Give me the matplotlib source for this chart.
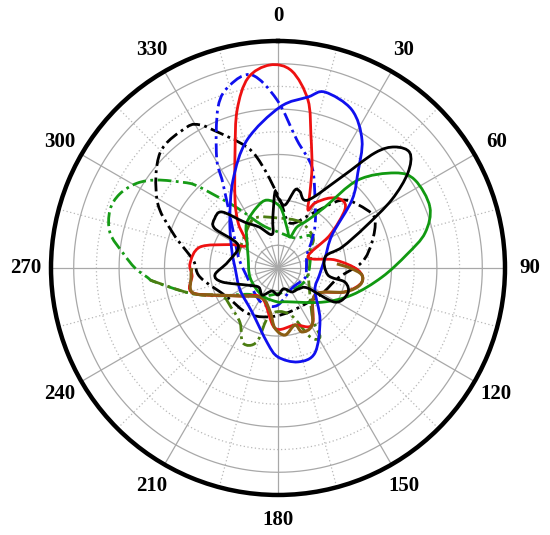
import numpy as np
import matplotlib
matplotlib.use("Agg")
import matplotlib.pyplot as plt
from matplotlib.path import Path
from matplotlib.patches import PathPatch

# ---- data: (angle in degrees clockwise from north, radius in grid units) ----
red_theta = [357.7, 4, 10.1, 14, 18.6, 23, 27.3, 29.6, 36.6, 43.3, 49, 57.6, 70, 82, 91.4, 99.5,
             109.7, 126, 149, 163.4, 183, 208, 233.6, 253.6, 265, 273, 285, 296, 306.6, 318,
             327.7, 340, 345.5, 351]
red_r = [8.95, 8.7, 7.52, 6.0, 4.69, 3.6, 2.88, 3.29, 3.84, 4.11, 3.9, 2.71, 1.41, 2.54, 3.52, 3.75,
         3.13, 2.02, 2.92, 2.62, 2.65, 1.5, 2.08, 3.9, 3.8, 3.88, 3.56, 2.35, 1.7, 2.6,
         3.54, 5.53, 7.19, 8.47]

bluedd_theta = [352.3, 359.7, 8.4, 18.6, 28.6, 40, 50.5, 65.9, 90, 110, 145, 180, 199, 216, 254,
                285, 310, 327, 331, 339.6, 345.3]
bluedd_r = [8.58, 7.4, 5.7, 4.69, 3.41, 2.55, 1.94, 1.4, 1.25, 1.27, 1.08, 1.63, 1.73, 1.58, 1.42,
            1.8, 2.59, 4.46, 5.58, 7.57, 8.33]

blue_theta = [15, 10, 0.7, 346.4, 332.9, 315, 291, 270, 240, 210.6, 188, 180, 168, 156.5, 141,
              121, 100, 78, 58.6, 47.4, 40, 33.3, 25]
blue_r = [8.02, 7.65, 7.09, 5.8, 4.35, 3.0, 2.18, 1.89, 1.93, 2.25, 3.34, 3.92, 4.23, 4.08, 2.94,
          1.9, 1.85, 2.12, 2.79, 4.43, 5.47, 6.74, 7.69]

black_theta = [48.9, 44, 40.1, 35, 23.8, 16, 12.3, 6.3, 0, 357.7, 354, 350, 335, 324, 315, 308,
               302, 300, 277, 264, 256, 240, 225, 210, 195, 180, 165, 150, 135, 124, 121, 110,
               102, 98, 77, 72, 64.8, 59, 53.8]
black_r = [7.71, 7.41, 6.63, 4.9, 3.27, 3.5, 3.52, 2.79, 3.1, 3.35, 2.2, 1.5, 2.0, 2.49, 3.49,
           3.54, 3.29, 2.03, 2.22, 2.79, 2.54, 1.52, 1.2, 1.38, 1.05, 1.19, 0.95, 1.22, 1.3, 1.59,
           2.92, 3.27, 3.02, 2.22, 2.13, 2.97, 4.24, 5.85, 7.09]

green_theta = [68.1, 57.3, 50.9, 42.3, 37.6, 32, 24.9, 21, 12, 2, 350.8, 341, 325, 312, 290,
               250, 210, 180, 168, 128, 110, 95, 84, 76.6]
green_r = [7.21, 7.17, 6.64, 5.24, 3.39, 2.49, 1.99, 1.46, 1.85, 2.69, 3.03, 2.84, 2.41, 1.84,
           1.4, 1.3, 1.4, 1.5, 1.52, 2.45, 3.47, 4.6, 5.71, 6.66]

blackdd_theta = [331.4, 327, 314.3, 299.3, 288.4, 275.4, 263.4, 240.4, 214.6, 192.7, 165, 122.7,
                 99.5, 86, 74.5, 63.7, 56.9, 43.7, 32.5, 15, 1.7, 351.6, 345.6, 334.8]
blackdd_r = [7.18, 7.39, 7.26, 6.11, 4.88, 3.76, 3.46, 2.58, 2.41, 2.21, 2.0, 2.2,
             2.68, 3.71, 4.3, 4.77, 4.68, 4.14, 2.87, 2.05, 3.0, 4.5, 5.5, 6.72]

greendd_theta = [339.6, 326, 319, 315, 312, 306, 301, 295, 289, 281.8, 275.5, 270, 266, 263.5,
                 254, 245, 230, 200, 120, 60, 45, 29.5, 0]
greendd_r = [2.02, 3.18, 4.25, 5.17, 5.64, 6.59, 7.25, 7.7, 7.83, 7.56, 6.86, 6.3, 5.78, 5.45,
             4.03, 2.9, 1.8, 1.3, 1.3, 1.7, 2.0, 1.52, 1.59]

olivedd_theta = [264.6, 254, 244, 230, 214.6, 205, 196, 190, 166, 155, 148.7, 146, 132, 100, 80,
                 60.6, 48.5, 25.6, 0, 335, 315, 288]
olivedd_r = [5.66, 4.03, 2.8, 2.7, 2.94, 3.65, 3.39, 2.1, 2.1, 3.35, 3.56, 2.76, 1.9, 1.35, 1.3,
             1.62, 2.06, 2.25, 2.2, 2.42, 2.06, 1.85]

brown_theta = [270, 264, 253.6, 244, 233.6, 208, 190, 183, 174, 163.4, 159.4, 149, 126, 109.7,
               101.7, 94.8, 90, 86]
brown_r = [3.8, 3.85, 3.9, 2.74, 2.08, 1.5, 1.97, 2.65, 2.97, 2.62, 3.01, 2.92, 2.02, 3.13,
           3.69, 3.71, 3.17, 2.6]

angle_ticks = list(range(0, 360, 30))
angle_labels = [str(a) for a in angle_ticks]

# ---- figure ----
fig = plt.figure(figsize=(5.5, 5.35), dpi=100)
ax = fig.add_axes([0.0927, 0.0748, 0.8255, 0.8486], projection='polar')
ax.set_theta_zero_location('N')
ax.set_theta_direction(-1)
ax.set_rlim(0, 10)
ax.grid(False)

# custom grid
tt = np.linspace(0, 2 * np.pi, 721)
for k in range(1, 10):
    if k % 2 == 1:
        ax.plot(tt, np.full_like(tt, k), color='#a8a8a8', lw=0.9, zorder=1)
    else:
        ax.plot(tt, np.full_like(tt, k), color='#b8b8b8', lw=0.9, ls=(0, (1, 2)), zorder=1)
for a in range(0, 360, 30):
    ax.plot([np.deg2rad(a)] * 2, [0, 10], color='#a8a8a8', lw=0.9, zorder=1)
for a in range(15, 360, 30):
    ax.plot([np.deg2rad(a)] * 2, [1, 10], color='#b8b8b8', lw=0.9, ls=(0, (1, 2)), zorder=1)
    ax.plot([np.deg2rad(a)] * 2, [0, 1], color='#a8a8a8', lw=0.9, zorder=1)


def smooth_path(th_deg, r, closed=True):
    """Bezier path (Catmull-Rom control points) through the read points,
    expressed in polar data coordinates so the axes transform draws it."""
    th = np.deg2rad(np.asarray(th_deg, float))
    r = np.asarray(r, float)
    P = np.column_stack([r * np.sin(th), r * np.cos(th)])
    n = len(P)
    if closed:
        get = lambda i: P[i % n]
        segs = range(n)
    else:
        get = lambda i: P[min(max(i, 0), n - 1)]
        segs = range(n - 1)
    verts = [get(0)]
    codes = [Path.MOVETO]
    for i in segs:
        p0, p1, p2, p3 = get(i - 1), get(i), get(i + 1), get(i + 2)
        c1 = p1 + (p2 - p0) / 6.0
        c2 = p2 - (p3 - p1) / 6.0
        verts += [c1, c2, p2]
        codes += [Path.CURVE4] * 3
    V = np.array(verts)
    pol = np.column_stack([np.arctan2(V[:, 0], V[:, 1]), np.hypot(V[:, 0], V[:, 1])])
    return Path(pol, codes)


dd = (0, (5, 1.6, 1, 1.6))
series = [
    (blackdd_theta, blackdd_r, 'black', dd, True, 2.0),
    (greendd_theta, greendd_r, '#169b16', dd, True, 2.0),
    (olivedd_theta, olivedd_r, '#4b7d12', dd, False, 2.0),
    (bluedd_theta, bluedd_r, '#1010ee', dd, True, 2.0),
    (red_theta, red_r, '#ee1111', '-', True, 2.0),
    (brown_theta, brown_r, '#8a5e14', '-', False, 2.2),
    (green_theta, green_r, '#119911', '-', True, 2.0),
    (blue_theta, blue_r, '#1010ee', '-', True, 2.0),
    (black_theta, black_r, 'black', '-', True, 2.0),
]
for th, r, c, ls, cl, lw in series:
    patch = PathPatch(smooth_path(th, r, cl), fill=False, edgecolor=c, lw=lw,
                      linestyle=ls, zorder=3)
    ax.add_patch(patch)

ax.set_yticks([])
ax.set_xticks(np.deg2rad(angle_ticks))
ax.set_xticklabels(angle_labels, fontfamily='Liberation Serif', fontweight='bold', fontsize=15)
ax.set_xticks(np.deg2rad(np.arange(15, 360, 30)), minor=True)
ax.tick_params(axis='x', which='major', direction='in', length=7, width=2.5, pad=11)
ax.tick_params(axis='x', which='minor', direction='in', length=4, width=1.5)
ax.spines['polar'].set_linewidth(3.2)

fig.savefig('out.png', dpi=100)
